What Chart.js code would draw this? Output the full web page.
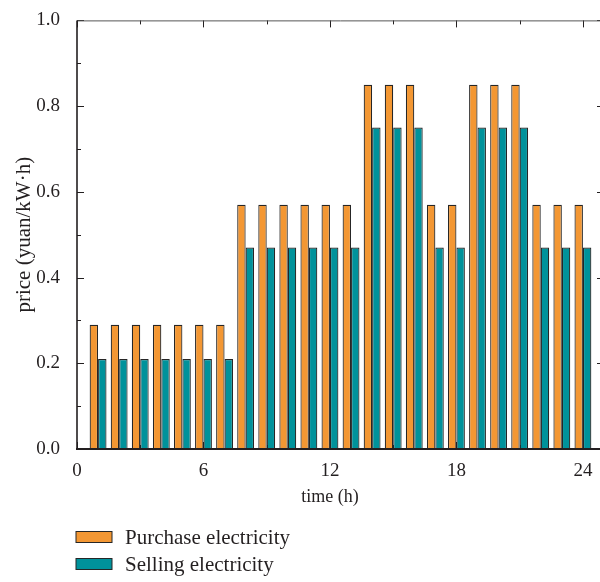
<!DOCTYPE html>
<html>
<head>
<meta charset="utf-8">
<script src="https://cdn.jsdelivr.net/npm/chart.js@4/dist/chart.umd.min.js"></script>
<style>
  html, body { margin: 0; padding: 0; background: #fff; overflow: hidden; width: 600px; height: 582px; }
  #wrap { width: 605px; height: 582px; }
</style>
</head>
<body>
<div id="wrap"><canvas id="c" width="605" height="582"></canvas></div>
<script>
// Hourly electricity prices (yuan/kW·h)
const hours = [1, 2, 3, 4, 5, 6, 7, 8, 9, 10, 11, 12, 13, 14, 15, 16, 17, 18, 19, 20, 21, 22, 23, 24];
const purchasePrice = [0.29, 0.29, 0.29, 0.29, 0.29, 0.29, 0.29,
                       0.57, 0.57, 0.57, 0.57, 0.57, 0.57,
                       0.85, 0.85, 0.85,
                       0.57, 0.57,
                       0.85, 0.85, 0.85,
                       0.57, 0.57, 0.57];
const sellingPrice = [0.21, 0.21, 0.21, 0.21, 0.21, 0.21, 0.21,
                      0.47, 0.47, 0.47, 0.47, 0.47, 0.47,
                      0.75, 0.75, 0.75,
                      0.47, 0.47,
                      0.75, 0.75, 0.75,
                      0.47, 0.47, 0.47];
const seriesNames = ['Purchase electricity', 'Selling electricity'];
const xTicks = [0, 6, 12, 18, 24];
const xMinorTicks = [3, 9, 15, 21];
const yTicks = [0, 0.2, 0.4, 0.6, 0.8, 1.0];
const yMinorTicks = [0.1, 0.3, 0.5, 0.7, 0.9];

const SERIF = '"Liberation Serif", "Times New Roman", serif';
const INK = '#231f20';
const ORANGE = '#f39733';
const TEAL = '#00929b';
const EDGE = '#262626';

// Frame, inward tick marks, x title and the stacked legend
const framePlugin = {
  id: 'frame',
  beforeDatasetsDraw(chart) {
    const { ctx, chartArea: a, scales: { x, y } } = chart;
    ctx.save();
    ctx.strokeStyle = INK;
    ctx.lineWidth = 1;
    const vTick = (val, len) => {
      const py = Math.round(y.getPixelForValue(val)) + 0.5;
      ctx.beginPath(); ctx.moveTo(a.left, py); ctx.lineTo(a.left + len, py); ctx.stroke();
      ctx.beginPath(); ctx.moveTo(a.right, py); ctx.lineTo(a.right - len, py); ctx.stroke();
    };
    const hTick = (val, len) => {
      const px = Math.round(x.getPixelForValue(val)) + 0.5;
      ctx.beginPath(); ctx.moveTo(px, a.top); ctx.lineTo(px, a.top + len); ctx.stroke();
      ctx.beginPath(); ctx.moveTo(px, a.bottom); ctx.lineTo(px, a.bottom - len); ctx.stroke();
    };
    yTicks.forEach(v => vTick(v, 7));
    yMinorTicks.forEach(v => vTick(v, 4));
    xTicks.forEach(v => hTick(v, 7));
    xMinorTicks.forEach(v => hTick(v, 4));
    ctx.restore();
  },
  afterDraw(chart) {
    const { ctx, chartArea: a, scales: { x } } = chart;
    ctx.save();
    // axes
    ctx.strokeStyle = '#555';
    ctx.lineWidth = 1;
    ctx.beginPath(); ctx.moveTo(a.left, a.top + 0.5); ctx.lineTo(a.right, a.top + 0.5); ctx.stroke();
    ctx.beginPath(); ctx.moveTo(a.right - 0.5, a.top); ctx.lineTo(a.right - 0.5, a.bottom); ctx.stroke();
    ctx.strokeStyle = INK;
    ctx.lineWidth = 1.6;
    ctx.beginPath(); ctx.moveTo(a.left, a.top); ctx.lineTo(a.left, a.bottom + 1); ctx.stroke();
    ctx.lineWidth = 2;
    ctx.beginPath(); ctx.moveTo(a.left - 1, a.bottom); ctx.lineTo(a.right, a.bottom); ctx.stroke();

    // x axis title, centred over the 0–24 h span
    ctx.fillStyle = INK;
    ctx.font = '18px ' + SERIF;
    ctx.textAlign = 'center';
    ctx.textBaseline = 'middle';
    const cx = (x.getPixelForValue(xTicks[0]) + x.getPixelForValue(xTicks[xTicks.length - 1])) / 2;
    ctx.fillText('time (h)', cx, 497);

    // legend, one entry per row
    ctx.textAlign = 'left';
    ctx.font = '21px ' + SERIF;
    chart.data.datasets.forEach((ds, i) => {
      const top = 531.5 + i * 27;
      ctx.fillStyle = ds.backgroundColor;
      ctx.fillRect(76, top, 36, 11);
      ctx.strokeStyle = EDGE;
      ctx.lineWidth = 1;
      ctx.strokeRect(76, top, 36, 11);
      ctx.fillStyle = INK;
      ctx.fillText(ds.label, 125, top + 7);
    });
    ctx.restore();
  }
};

const toPoints = vals => hours.map((h, i) => ({ x: h, y: vals[i] }));

new Chart(document.getElementById('c'), {
  type: 'bar',
  data: {
    datasets: [
      { label: seriesNames[0], data: toPoints(purchasePrice), backgroundColor: ORANGE,
        borderColor: EDGE, borderWidth: 1.2, categoryPercentage: 0.8, barPercentage: 1.0 },
      { label: seriesNames[1], data: toPoints(sellingPrice), backgroundColor: TEAL,
        borderColor: EDGE, borderWidth: 1.2, categoryPercentage: 0.8, barPercentage: 1.0 }
    ]
  },
  options: {
    responsive: false,
    animation: false,
    devicePixelRatio: 1,
    layout: { padding: { top: 20, right: 1, bottom: 73, left: 0 } },
    plugins: { legend: { display: false }, tooltip: { enabled: false } },
    scales: {
      x: {
        type: 'linear',
        offset: false,
        min: 0,
        max: 25,
        afterBuildTicks: s => { s.ticks = xTicks.map(v => ({ value: v })); },
        afterFit: s => { s.height = 60; },
        grid: { display: false, offset: false },
        border: { display: false },
        ticks: { font: { family: SERIF, size: 19 }, color: INK, padding: 3, maxRotation: 0, autoSkip: false }
      },
      y: {
        min: 0,
        max: 1,
        afterBuildTicks: s => { s.ticks = yTicks.map(v => ({ value: v })); },
        afterFit: s => { s.width = 77; },
        grid: { display: false },
        border: { display: false },
        ticks: { font: { family: SERIF, size: 19 }, color: INK, padding: 9,
                 callback: v => Number(v).toFixed(1) },
        title: { display: true, text: 'price (yuan/kW·h)', color: INK,
                 font: { family: SERIF, size: 21 }, padding: { top: 12, bottom: 0 } }
      }
    }
  },
  plugins: [framePlugin]
});
</script>
</body>
</html>
